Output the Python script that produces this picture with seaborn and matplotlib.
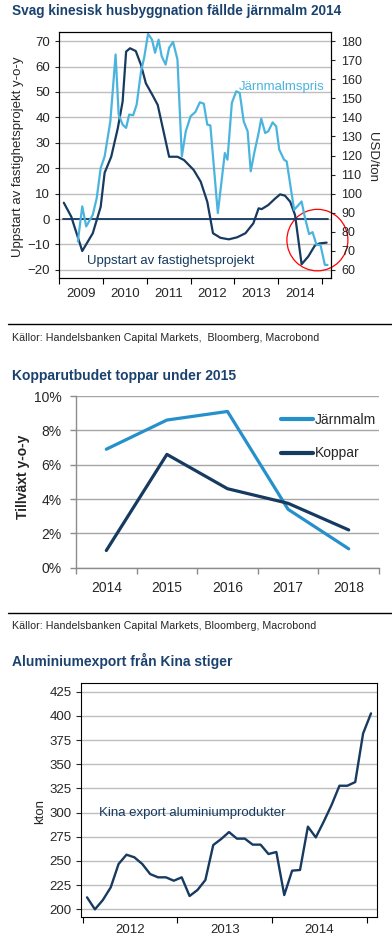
import matplotlib

matplotlib.use("Agg")

import matplotlib.pyplot as plt
import seaborn as sns
import pandas as pd
from matplotlib.patches import Ellipse
from matplotlib.lines import Line2D


# --- chart 1: housing starts (left axis) vs iron ore price (right axis)
start_years = [2009.11, 2009.28, 2009.53, 2009.77, 2009.95, 2010.04, 2010.19, 2010.34,
               2010.45, 2010.53, 2010.62, 2010.75, 2010.87, 2010.98, 2011.13, 2011.25,
               2011.51, 2011.70, 2011.85, 2012.07, 2012.23, 2012.38, 2012.51, 2012.68,
               2012.87, 2013.06, 2013.25, 2013.43, 2013.55, 2013.62, 2013.77, 2013.93,
               2014.04, 2014.15, 2014.27, 2014.38, 2014.53, 2014.68, 2014.83, 2014.94,
               2015.10]
start_values = [6.4, 0.9, -12.6, -5.6, 4.8, 18.2, 24.5, 35.7,
                46.2, 65.9, 67.2, 66.1, 60.6, 53.4, 48.8, 44.9,
                24.5, 24.5, 23.2, 19.3, 14.7, 6.8, -5.6, -7.4,
                -8.0, -7.2, -5.6, -1.7, 4.2, 3.9, 5.5, 8.1,
                9.7, 9.2, 6.8, 1.6, -17.8, -14.8, -10.5, -9.6,
                -9.3]

ore_years = [2009.43, 2009.53, 2009.62, 2009.77, 2009.86, 2009.95, 2010.04, 2010.17,
             2010.29, 2010.36, 2010.45, 2010.53, 2010.60, 2010.69, 2010.77, 2010.87,
             2010.94, 2011.03, 2011.12, 2011.19, 2011.27, 2011.34, 2011.43, 2011.51,
             2011.60, 2011.70, 2011.80, 2011.89, 2012.00, 2012.11, 2012.21, 2012.30,
             2012.38, 2012.45, 2012.62, 2012.78, 2012.84, 2012.94, 2013.04, 2013.12,
             2013.21, 2013.30, 2013.37, 2013.45, 2013.55, 2013.61, 2013.70, 2013.77,
             2013.87, 2013.95, 2014.02, 2014.13, 2014.19, 2014.36, 2014.53, 2014.60,
             2014.70, 2014.78, 2014.87, 2014.96, 2015.06, 2015.12]
ore_prices = [75.0, 93.3, 82.8, 88.9, 97.7, 113.4, 119.5, 137.9,
              173.0, 141.5, 136.2, 134.5, 141.5, 141.1, 146.7, 164.2,
              171.2, 183.8, 180.8, 173.9, 180.8, 172.1, 167.7, 176.5,
              179.6, 170.4, 119.5, 132.7, 140.6, 142.9, 147.9, 147.2,
              136.2, 135.8, 89.8, 121.3, 117.8, 147.6, 153.7, 152.8,
              137.9, 132.7, 111.7, 121.3, 131.8, 139.3, 131.8, 132.7,
              137.4, 135.3, 123.1, 117.8, 116.9, 91.5, 95.9, 88.0,
              78.8, 79.8, 73.1, 73.1, 62.6, 62.6]
year_labels_1 = ["2009", "2010", "2011", "2012", "2013", "2014"]

# --- chart 2: supply growth forecast
supply_years = ["2014", "2015", "2016", "2017", "2018"]
iron_growth = [6.9, 8.6, 9.1, 3.4, 1.1]
copper_growth = [1.0, 6.6, 4.6, 3.75, 2.2]

# --- chart 3: Chinese aluminium exports, monthly Jan 2012 - Jan 2015
alu_months = pd.date_range("2012-01-01", periods=37, freq="MS")
alu_export = [212.4, 200.0, 209.6, 222.7, 246.9, 256.5, 253.8, 246.9, 236.5, 233.1,
              233.1, 229.6, 233.1, 213.8, 220.0, 230.3, 266.5, 272.7, 279.9, 273.1,
              273.1, 266.9, 266.9, 257.2, 259.3, 214.8, 240.0, 240.7, 285.5, 274.4,
              290.6, 307.9, 327.8, 327.8, 331.6, 381.9, 402.6]
year_labels_3 = ["2012", "2013", "2014"]

NAVY = "#163A60"
LIGHT1 = "#4BB4DE"
LIGHT2 = "#2590CA"
TITLE = "#1B426F"
GRID = "#BEBEBE"

sns.set_style("white")
plt.rcParams["font.family"] = ["Liberation Sans", "DejaVu Sans"]

W, H = 392, 943
fig = plt.figure(figsize=(W / 100, H / 100), dpi=100)


def px_axes(left, top, right, bottom):
    return fig.add_axes([left / W, 1 - bottom / H, (right - left) / W, (bottom - top) / H])


def ftext(x, y, s, **kw):
    return fig.text(x / W, 1 - y / H, s, **kw)


# ---------------- chart 1
ftext(12, 11.5, "Svag kinesisk husbyggnation fällde järnmalm 2014", fontsize=9.8,
      fontweight="bold", color=TITLE, va="center", ha="left")

ax1 = px_axes(59, 32, 331, 277.7)
ax1r = ax1.twinx()
ax1.set_axisbelow(True)
ax1.grid(axis="y", color=GRID, lw=1)
ax1.grid(axis="x", visible=False)
ax1.axhline(0, xmin=0.013, xmax=0.989, color=NAVY, lw=1.3)

sns.lineplot(x=start_years, y=start_values, ax=ax1, color=NAVY, lw=1.6,
             estimator=None, sort=False)
sns.lineplot(x=ore_years, y=ore_prices, ax=ax1r, color=LIGHT1, lw=1.6,
             estimator=None, sort=False)

ax1.set_xlim(2009.0, 2015.2)
ax1.set_ylim(-23.1, 73.6)
ax1r.set_ylim(55.9, 184.8)
ax1.set_yticks(range(-20, 71, 10))
ax1r.set_yticks(range(60, 181, 10))
ax1.set_xticks(range(2009, 2016))
ax1.set_xticklabels([])
ax1.set_xticks([y + 0.5 for y in range(2009, 2015)], minor=True)
ax1.set_xticklabels(year_labels_1, minor=True)
ax1.tick_params(axis="x", which="major", bottom=True, length=4, width=0.8, color="black")
ax1.tick_params(axis="x", which="minor", bottom=True, length=0, labelsize=9.5, pad=7.5)
ax1.tick_params(axis="y", left=True, length=3, width=0.8, labelsize=9.5, pad=3.5)
ax1r.tick_params(axis="y", right=True, length=3, width=0.8, labelsize=9, pad=4.5)
for a in (ax1, ax1r):
    a.set_xlabel("")
    a.set_ylabel("")
    for sp in a.spines.values():
        sp.set_color("black")
        sp.set_linewidth(0.8)

ftext(18, 156.5, "Uppstart av fastighetsprojekt y-o-y", rotation=90, fontsize=9.5,
      ha="center", va="center")
ftext(371.5, 156.7, "USD/ton", rotation=270, fontsize=9.5, ha="center", va="center")
ax1.text(2015.05, 51.9, "Järnmalmspris", color=LIGHT1, fontsize=9.5, ha="right", va="center")
ax1.text(2009.63, -16.4, "Uppstart av fastighetsprojekt", color=NAVY, fontsize=9.5,
         ha="left", va="center")
ax1.add_patch(Ellipse((2014.89, -8.3), 1.39, 24.2, fill=False, edgecolor="red",
                      lw=0.9, clip_on=False))

fig.add_artist(Line2D([8 / W, 1], [1 - 324.3 / H] * 2, color="black", lw=1))
ftext(12, 338, "Källor: Handelsbanken Capital Markets,  Bloomberg, Macrobond",
      fontsize=7.7, va="center", ha="left")

# ---------------- chart 2
ftext(12, 376, "Kopparutbudet toppar under 2015", fontsize=10, fontweight="bold",
      color=TITLE, va="center", ha="left")

ax2 = px_axes(76, 396, 379, 567.7)
ax2.set_axisbelow(True)
ax2.grid(axis="y", color="#A6A6A6", lw=1)
ax2.grid(axis="x", visible=False)
pos = list(range(len(supply_years)))
sns.lineplot(x=pos, y=iron_growth, ax=ax2, color=LIGHT2, lw=2.3, label="Järnmalm",
             estimator=None, sort=False)
sns.lineplot(x=pos, y=copper_growth, ax=ax2, color=NAVY, lw=2.3, label="Koppar",
             estimator=None, sort=False)
ax2.set_xlim(-0.5, 4.5)
ax2.set_ylim(0, 10)
ax2.set_yticks(range(0, 11, 2))
ax2.set_yticklabels([f"{v}%" for v in range(0, 11, 2)])
ax2.set_xticks([p - 0.5 for p in range(len(supply_years) + 1)])
ax2.set_xticklabels([])
ax2.set_xticks(pos, minor=True)
ax2.set_xticklabels(supply_years, minor=True)
ax2.tick_params(axis="x", which="major", bottom=True, length=4, width=1, color="#8C8C8C")
ax2.tick_params(axis="x", which="minor", bottom=True, length=0, labelsize=10, pad=9.5)
ax2.tick_params(axis="y", left=True, length=4.3, width=1, color="#8C8C8C",
                labelsize=10, pad=6)
for side in ("top", "right"):
    ax2.spines[side].set_visible(False)
for side in ("left", "bottom"):
    ax2.spines[side].set_color("#8C8C8C")
    ax2.spines[side].set_linewidth(1)
ax2.set_xlabel("")
ax2.set_ylabel("")
ftext(23, 477, "Tillväxt y-o-y", rotation=90, fontsize=10, fontweight="bold",
      ha="center", va="center")
leg = ax2.legend(loc="upper left", bbox_to_anchor=(281 / W, 1 - 413 / H),
                 bbox_transform=fig.transFigure, frameon=False, fontsize=10,
                 handlelength=2.3, handletextpad=0.15, labelspacing=1.4,
                 borderpad=0, borderaxespad=0)
for h in leg.legend_handles:
    h.set_linewidth(3)

fig.add_artist(Line2D([8 / W, 1], [1 - 613.3 / H] * 2, color="black", lw=1))
ftext(12, 626, "Källor: Handelsbanken Capital Markets, Bloomberg, Macrobond",
      fontsize=7.7, va="center", ha="left")

# ---------------- chart 3
ftext(12, 661, "Aluminiumexport från Kina stiger", fontsize=10, fontweight="bold",
      color=TITLE, va="center", ha="left")

ax3 = px_axes(81, 683.3, 376.7, 916.7)
ax3.set_axisbelow(True)
ax3.grid(axis="y", color=GRID, lw=1)
ax3.grid(axis="x", visible=False)
alu_x = [d.year + (d.month - 0.45) / 12 for d in alu_months]
sns.lineplot(x=alu_x, y=alu_export, ax=ax3, color=NAVY, lw=1.7, estimator=None, sort=False)
ax3.set_xlim(2011.982, 2015.106)
ax3.set_ylim(192.4, 433.7)
ax3.set_yticks(range(200, 426, 25))
ax3.set_xticks(range(2012, 2016))
ax3.set_xticklabels([])
ax3.set_xticks([y + 0.5 for y in range(2012, 2015)], minor=True)
ax3.set_xticklabels(year_labels_3, minor=True)
ax3.tick_params(axis="x", which="major", bottom=True, length=4.3, width=0.8, color="black")
ax3.tick_params(axis="x", which="minor", bottom=True, length=0, labelsize=9.5, pad=5)
ax3.tick_params(axis="y", left=True, length=3.6, width=0.8, labelsize=9.5, pad=3)
for sp in ax3.spines.values():
    sp.set_color("black")
    sp.set_linewidth(0.8)
ax3.set_xlabel("")
ax3.set_ylabel("")
ftext(40, 812, "kton", rotation=90, fontsize=9.5, ha="center", va="center")
ax3.text(2012.17, 300, "Kina export aluminiumprodukter", color=NAVY, fontsize=9.5,
         ha="left", va="center")

fig.savefig("out.png", dpi=100)
